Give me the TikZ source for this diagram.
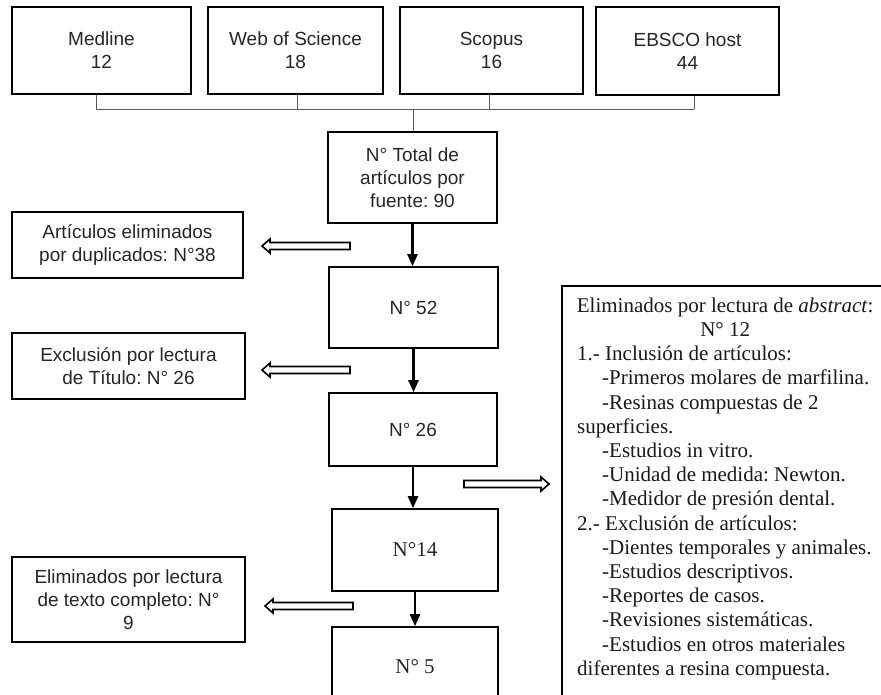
\documentclass[tikz,border=0pt]{standalone}
\usepackage{fontspec}
\setmainfont{Liberation Serif}
\setsansfont{Liberation Sans}
\usetikzlibrary{arrows.meta}
\frenchspacing
\tikzset{
  box/.style={draw=black, line width=1.6pt, inner sep=0pt, align=center,
    font=\sffamily\fontsize{19}{23}\selectfont, text=black!85},
  serifbox/.style={box, font=\rmfamily\fontsize{21}{24}\selectfont},
  abstext/.style={inner sep=0pt, align=left,
    font=\rmfamily\fontsize{21}{24.2}\selectfont, text=black!90},
  bracket/.style={draw=black!65, line width=1pt},
  flow/.style={line width=2.4pt, -{Triangle[length=12pt,width=10pt]}},
  hollowleft/.pic={\draw[line width=1.6pt, fill=white]
     (0,0) -- (8,-7) -- (8,-3.5) -- (88,-3.5) -- (88,3.5) -- (8,3.5) -- (8,7) -- cycle;},
  hollowright/.pic={\draw[line width=1.6pt, fill=white]
     (0,0) -- (-8,-7) -- (-8,-3.5) -- (-85,-3.5) -- (-85,3.5) -- (-8,3.5) -- (-8,7) -- cycle;}
}
\begin{document}
\begin{tikzpicture}[x=1pt,y=-1pt]
\path[use as bounding box, clip] (0,0) rectangle (881,694);
\fill[white] (0,0) rectangle (881,694);

% source boxes
\node[box, minimum width=179pt, minimum height=87pt] (medline) at (101.5,50.5) {Medline\\12};
\node[box, minimum width=175pt, minimum height=87pt] (wos) at (295.5,50.5) {Web of Science\\18};
\node[box, minimum width=183pt, minimum height=87pt] (scopus) at (491.5,50.5) {Scopus\\16};
\node[box, minimum width=183pt, minimum height=88pt] (ebsco) at (687.5,51) {EBSCO host\\44};

% main column
\node[box, minimum width=169pt, minimum height=91pt] (total) at (412.5,177.5) {N° Total de\\artículos por\\fuente: 90};
\node[box, minimum width=169pt, minimum height=81pt] (n52) at (413.5,307.5) {N° 52};
\node[box, minimum width=168pt, minimum height=73pt] (n26) at (413,429.5) {N° 26};
\node[serifbox, minimum width=166pt, minimum height=82pt] (n14) at (415,550) {N°14};
\node[serifbox, minimum width=166pt, minimum height=80pt] (n5) at (415,667) {N° 5};

% side boxes
\node[box, minimum width=231pt, minimum height=66pt] (dup) at (127.5,245) {Artículos eliminados\\por duplicados: N°38};
\node[box, minimum width=233pt, minimum height=66pt] (tit) at (128.5,366) {Exclusión por lectura\\de Título: N° 26};
\node[box, minimum width=233pt, minimum height=85pt] (txt) at (128.5,599.5) {Eliminados por lectura\\de texto completo: N°\\9};

% abstract box
\node[draw=black, line width=1.6pt, anchor=north west, minimum width=340pt, minimum height=440pt, inner sep=0pt] (absbox) at (561,285) {};
\node[abstext, anchor=north west] (abstxt) at (577,297.5) {%
\makebox[296pt]{Eliminados por lectura de \textit{abstract}:}\\
\makebox[296pt]{N° 12}\\
1.- Inclusión de artículos:\\
\hspace*{25pt}-Primeros molares de marfilina.\\
\hspace*{25pt}-Resinas compuestas de 2\\
superficies.\\
\hspace*{25pt}-Estudios in vitro.\\
\hspace*{25pt}-Unidad de medida: Newton.\\
\hspace*{25pt}-Medidor de presión dental.\\
2.- Exclusión de artículos:\\
\hspace*{25pt}-Dientes temporales y animales.\\
\hspace*{25pt}-Estudios descriptivos.\\
\hspace*{25pt}-Reportes de casos.\\
\hspace*{25pt}-Revisiones sistemáticas.\\
\hspace*{25pt}-Estudios en otros materiales\\
diferentes a resina compuesta.};

% bracket joining sources
\coordinate (d1) at (96,109);
\coordinate (d2) at (297,109);
\coordinate (d3) at (489,109);
\coordinate (d4) at (694,109);
\coordinate (j) at (413,109);
\draw[bracket] (medline.south -| d1) -- (d1);
\draw[bracket] (wos.south -| d2) -- (d2);
\draw[bracket] (scopus.south -| d3) -- (d3);
\draw[bracket] (ebsco.south -| d4) -- (d4);
\draw[bracket] (d1) -- (d4);
\draw[bracket] (j) -- (j |- total.north);

% flow arrows
\draw[flow] (total.south) -- (total.south |- n52.north);
\draw[flow] (n52.south) -- (n52.south |- n26.north);
\draw[flow] (n26.south) -- (n26.south |- n14.north);
\draw[flow] (n14.south) -- (n14.south |- n5.north);

% hollow exclusion arrows
\coordinate (h1) at (262,246);
\coordinate (h2) at (262,370);
\coordinate (h3) at (265,606);
\coordinate (h4) at (549,484);
\pic at (h1) {hollowleft};
\pic at (h2) {hollowleft};
\pic at (h3) {hollowleft};
\pic at (h4) {hollowright};
\end{tikzpicture}
\end{document}
